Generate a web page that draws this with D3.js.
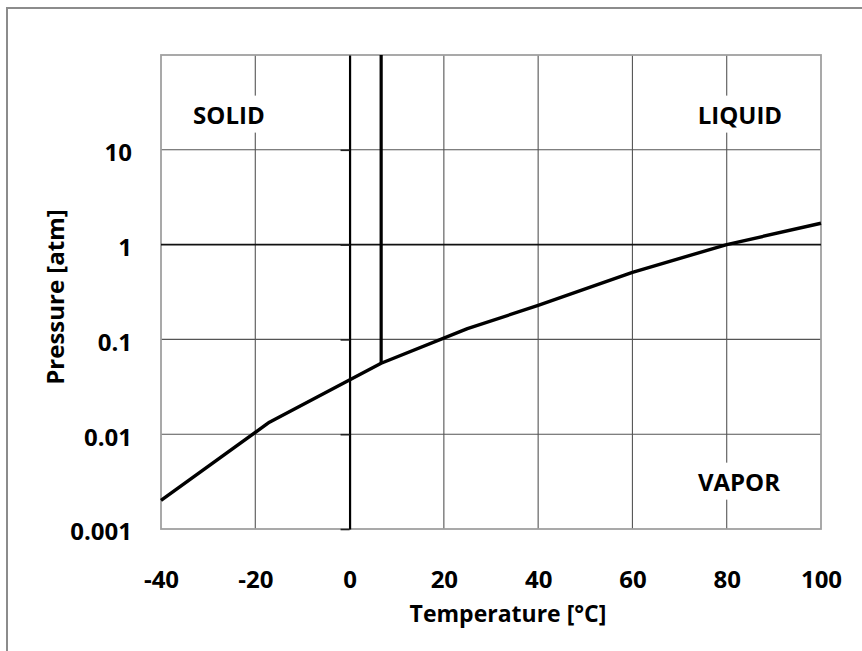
<!DOCTYPE html>
<html>
<head>
<meta charset="utf-8">
<script src="https://cdn.jsdelivr.net/npm/d3@7/dist/d3.min.js"></script>
<style>
  html, body { margin: 0; padding: 0; background: #fff; }
  svg text { font-family: "Open Sans", "Liberation Sans", sans-serif; font-weight: bold; fill: #000; }
</style>
</head>
<body>
<svg id="chart" width="862" height="651"></svg>
<script>
// ---- data ----
const xTicks = [-40, -20, 0, 20, 40, 60, 80, 100];
const xTickLabels = ["-40", "-20", "0", "20", "40", "60", "80", "100"];
const yTicks = [0.001, 0.01, 0.1, 1, 10];
const yTickLabels = ["0.001", "0.01", "0.1", "1", "10"];
const vaporTemp = [-40, -17, 6.7, 25, 40, 60, 80, 100];
const vaporPres = [0.002, 0.0134, 0.056, 0.13, 0.228, 0.51, 1.0, 1.68];
const meltTemp = [6.7, 6.7];
const meltPres = [0.056, 100];
const phaseNames = ["SOLID", "LIQUID", "VAPOR"];
const phaseTemp = [-25.6, 82.8, 82.6];
const phasePres = [23.3, 23.3, 0.00313];

// ---- layout ----
const svg = d3.select("#chart");
const L = 161, R = 821, T = 55, B = 529;
const x = d3.scaleLinear().domain([-40, 100]).range([L, R]);
const y = d3.scaleLog().domain([0.001, 100]).range([B, T]);

// outer border
svg.append("rect").attr("x", 7).attr("y", 8).attr("width", 900).attr("height", 700)
  .attr("fill", "#fff").attr("stroke", "#8c8c8c").attr("stroke-width", 2);

// gridlines
const g = svg.append("g");
g.selectAll("line.vg").data(xTicks.filter(d => d > -40 && d < 100 && d !== 0)).join("line")
  .attr("x1", d => x(d)).attr("x2", d => x(d)).attr("y1", T).attr("y2", B)
  .attr("stroke", "#555").attr("stroke-width", 1.1);
g.selectAll("line.hg").data(yTicks.filter(d => d > 0.001 && d !== 1)).join("line")
  .attr("x1", L).attr("x2", R).attr("y1", d => y(d)).attr("y2", d => y(d))
  .attr("stroke", "#555").attr("stroke-width", 1.1);

// plot border
svg.append("rect").attr("x", L).attr("y", T).attr("width", R - L).attr("height", B - T)
  .attr("fill", "none").attr("stroke", "#a0a0a0").attr("stroke-width", 1.8);

// horizontal axis line at 1 atm
svg.append("line").attr("x1", L).attr("x2", R).attr("y1", y(1)).attr("y2", y(1))
  .attr("stroke", "#111").attr("stroke-width", 1.8);

// vertical axis at 0 C with ticks
const vAxis = svg.append("g").attr("transform", `translate(${x(0)},0)`)
  .call(d3.axisLeft(y).tickValues(yTicks).tickFormat("").tickSize(9).tickSizeOuter(0));
vAxis.select(".domain").attr("stroke", "#000").attr("stroke-width", 2.2);
vAxis.selectAll(".tick line").attr("stroke", "#222").attr("stroke-width", 1.6);

// tick labels
const yLab = svg.append("g").attr("transform", `translate(${L},0)`)
  .call(d3.axisLeft(y).tickValues(yTicks).tickFormat((d, i) => yTickLabels[i]).tickSize(0).tickPadding(29));
yLab.select(".domain").remove();
yLab.selectAll("text").attr("font-size", 24).attr("dy", "0.45em")
  .style("font-family", "'Open Sans', sans-serif").style("font-weight", "bold");

const xLab = svg.append("g").attr("transform", `translate(0,${B})`)
  .call(d3.axisBottom(x).tickValues(xTicks).tickFormat((d, i) => xTickLabels[i]).tickSize(0).tickPadding(42));
xLab.select(".domain").remove();
xLab.selectAll("text").attr("font-size", 24)
  .style("font-family", "'Open Sans', sans-serif").style("font-weight", "bold");

// curves
const line = d3.line().x(d => x(d[0])).y(d => y(d[1]));
svg.append("path").datum(meltTemp.map((t, i) => [t, meltPres[i]]))
  .attr("d", line).attr("fill", "none").attr("stroke", "#000").attr("stroke-width", 3.2);
svg.append("path").datum(vaporTemp.map((t, i) => [t, vaporPres[i]]))
  .attr("d", line).attr("fill", "none").attr("stroke", "#000").attr("stroke-width", 3.4)
  .attr("stroke-linejoin", "round");

// phase labels with white boxes
phaseNames.forEach((name, i) => {
  const gg = svg.append("g");
  const t = gg.append("text").attr("x", x(phaseTemp[i])).attr("y", y(phasePres[i]))
    .attr("text-anchor", "middle").attr("dy", "0.36em").attr("font-size", 24).text(name);
  const bb = t.node().getBBox();
  gg.insert("rect", "text").attr("x", bb.x - 4).attr("y", bb.y - 2)
    .attr("width", bb.width + 8).attr("height", bb.height + 4).attr("fill", "#fff");
});

// axis titles
svg.append("text").attr("x", 508).attr("y", 614).attr("dy", "0.36em")
  .attr("text-anchor", "middle").attr("font-size", 23).text("Temperature [°C]");
svg.append("text").attr("transform", "translate(55,297) rotate(-90)").attr("dy", "0.36em")
  .attr("text-anchor", "middle").attr("font-size", 24).text("Pressure [atm]");
</script>
</body>
</html>
